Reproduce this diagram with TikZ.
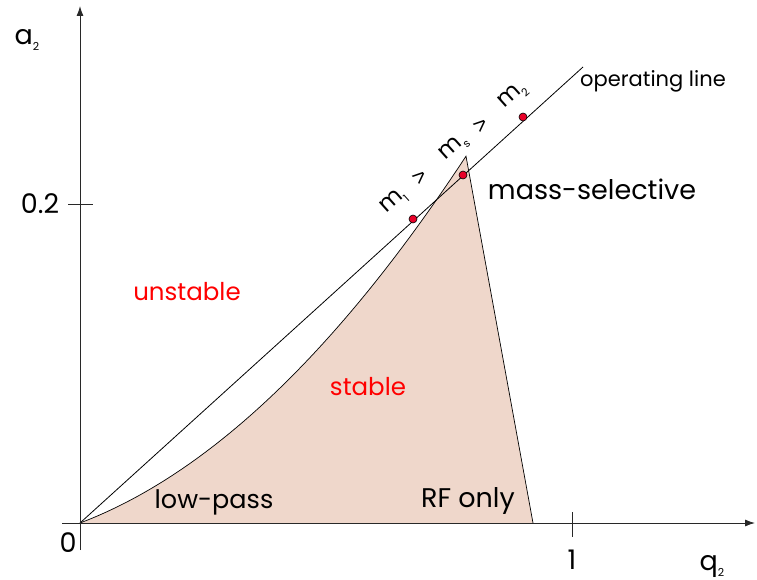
\documentclass[tikz,border=0pt]{standalone}
\usepackage{fontspec}
\setmainfont{Poppins}
\newfontfamily\chevronfont{Liberation Sans}
\usetikzlibrary{arrows.meta}
\definecolor{stablefill}{RGB}{239,215,203}
\definecolor{dotred}{RGB}{232,0,40}
\definecolor{axisgray}{RGB}{40,40,40}
\newcommand{\fs}[1]{\fontsize{#1}{#1}\selectfont}
\newcommand{\sub}[1]{\raisebox{-0.25em}{\fontsize{11}{11}\selectfont #1}}
\begin{document}
\begin{tikzpicture}[x=1pt,y=-1pt,
  axis/.style={line width=0.9pt, draw=axisgray},
  tickline/.style={line width=0.9pt, draw=axisgray},
  bound/.style={line width=0.7pt, draw=black},
  opline/.style={line width=0.8pt, draw=black},
  massdot/.style={circle, draw=black, line width=0.6pt, fill=dotred, inner sep=0pt, minimum size=8pt},
  lbl/.style={font=\fs{27}, text=black, inner sep=0pt},
  redlbl/.style={font=\fs{24.5}, text=red, inner sep=0pt},
  mlbl/.style={font=\fs{23}, text=black, inner sep=0pt, rotate=42},
  gtlbl/.style={font=\chevronfont\fs{22}, text=black, inner sep=0pt, rotate=42},
  smalllbl/.style={font=\fs{21}, text=black, inner sep=0pt}]
\useasboundingbox (0,0) rectangle (757,580);
% key points
\coordinate (O) at (80,523);
\coordinate (apex) at (466,155);
\coordinate (rfend) at (533,523);
\coordinate (opend) at (583,67);
\coordinate (xstart) at (62,523);
\coordinate (xend) at (755,523);
\coordinate (ystart) at (80,550);
\coordinate (yend) at (80,6);
% stable region
\path[fill=stablefill] (O) -- plot[domain=0:386,samples=90] ({80+\x},{523-0.379*\x-0.001482*\x*\x}) -- (rfend) -- cycle;
\draw[bound] (O) -- plot[domain=0:386,samples=90] ({80+\x},{523-0.379*\x-0.001482*\x*\x}) -- (rfend);
% operating line
\draw[opline] (O) -- (opend);
% axes
\draw[axis, -{Latex[length=10pt,width=7pt]}] (xstart) -- (xend);
\draw[axis, -{Latex[length=10pt,width=7pt]}] (ystart) -- (yend);
% ticks
\coordinate (t2a) at (68,204); \coordinate (t2b) at (93,204);
\coordinate (t1a) at (572,512); \coordinate (t1b) at (572,537);
\draw[tickline] (t2a) -- (t2b);
\draw[tickline] (t1a) -- (t1b);
% dots
\node[massdot] (m1dot) at (413,219) {};
\node[massdot] (msdot) at (463,175) {};
\node[massdot] (m2dot) at (523,117) {};
% axis labels
\node[lbl] (alab) at (27,40) {a\sub{2}};
\node[lbl] (qlab) at (712,566) {q\sub{2}};
\node[lbl] (v02) at (40,204) {0.2};
\node[lbl] (v0) at (68,543) {0};
\node[lbl] (v1) at (572,560) {1};
% region labels
\node[smalllbl] (oplab) at (653,81) {operating line};
\node[lbl] (mslab) at (592,189) {mass-selective};
\node[redlbl] (unst) at (187,292) {unstable};
\node[redlbl] (stab) at (368,387) {stable};
\node[lbl, font=\fs{25.5}] (lowp) at (214,502) {low-pass};
\node[lbl] (rfo) at (468,501) {RF only};
% mass labels
\node[mlbl] (m1lab) at (394,202) {m\sub{1}};
\node[gtlbl] (gt1) at (420,177) {>};
\node[mlbl] (mslabel) at (454,148) {m\sub{s}};
\node[gtlbl] (gt2) at (481,125) {>};
\node[mlbl] (m2lab) at (513,96) {m\sub{2}};
\end{tikzpicture}
\end{document}
